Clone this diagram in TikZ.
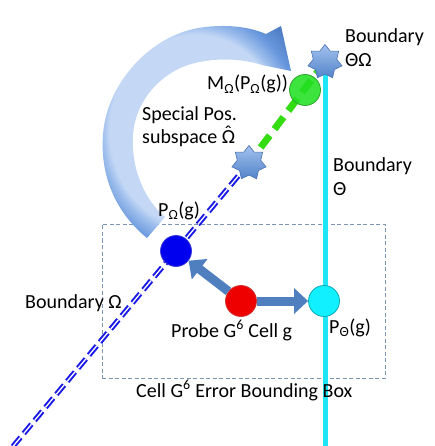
\documentclass[tikz,border=0pt]{standalone}
\usepackage{fontspec}
\setmainfont{Carlito}
\usetikzlibrary{shapes.geometric,arrows.meta}
\definecolor{ringin}{HTML}{C4D8F5}
\definecolor{ringlt}{HTML}{9CBDEC}
\definecolor{ringmid}{HTML}{6897DD}
\definecolor{ringout}{HTML}{4574BC}
\definecolor{startop}{HTML}{A3C2EE}
\definecolor{starbot}{HTML}{5283CA}
\definecolor{starline}{HTML}{4A72B0}
\definecolor{arrblue}{HTML}{4F7FBF}
\definecolor{gfill}{HTML}{22E022}
\definecolor{gline}{HTML}{2FA52F}
\definecolor{gdash}{HTML}{33DD11}
\definecolor{bfill}{HTML}{0000EE}
\definecolor{bline}{HTML}{3A3AD8}
\definecolor{bdash}{HTML}{1A1AE6}
\definecolor{rfill}{HTML}{EE0000}
\definecolor{rline}{HTML}{D03030}
\definecolor{cfill}{HTML}{10F0FF}
\definecolor{cline}{HTML}{10A8B8}
\definecolor{cyanl}{HTML}{1EE6F6}
\definecolor{boxc}{HTML}{7D95B5}
\pgfdeclareradialshading{ringshade}{\pgfpoint{0bp}{0bp}}{color(0bp)=(ringin); color(22.5bp)=(ringin); color(24.5bp)=(ringlt); color(28bp)=(ringmid); color(34bp)=(ringout); color(50bp)=(ringout)}
\pgfdeclarelayer{bg}
\pgfsetlayers{bg,main}
\newcommand{\omhat}{\ooalign{Ω\cr\hidewidth\raisebox{0.2em}{ˆ}\hidewidth\cr}}
\begin{document}
\begin{tikzpicture}[x=1pt,y=-1pt,
  lbl/.style={anchor=base west, inner sep=0pt, align=left, font=\fontsize{20}{23.5}\selectfont},
  starnode/.style={star, star points=7, star point ratio=1.45, minimum size=35pt, inner sep=0pt, draw=starline, line width=0.6pt, top color=startop, bottom color=starbot},
  dot/.style={circle, minimum size=31pt, inner sep=0pt, line width=0.8pt},
  blockarrow/.style={draw=arrblue, line width=9pt, -{Triangle[length=14pt,width=25pt]}},
  cyanline/.style={draw=cyanl, line width=5pt},
  greendash/.style={draw=gdash, line width=7pt, dash pattern=on 15pt off 8pt},
  bluedouble/.style={draw=bdash, line width=2pt, double=white, double distance=1.3pt, dash pattern=on 12pt off 5pt},
  boxline/.style={draw=boxc, line width=0.6pt, dash pattern=on 4pt off 2.5pt}
]
\useasboundingbox (0,0) rectangle (434,446);

\node[starnode] (topstar) at (325,62) {};
\node[starnode] (midstar) at (249,163) {};
\node[dot, fill=gfill, draw=gline, fill opacity=0.88] (mcirc) at (305,90) {};
\node[dot, fill=bfill, draw=bline] (pomega) at (176,251) {};
\node[dot, fill=rfill, draw=rline] (probe) at (241,301) {};
\node[dot, fill=cfill, draw=cline] (ptheta) at (324,301) {};
\coordinate (cyanend) at (325,450);
\coordinate (blueend) at (10,450);

\begin{pgfonlayer}{bg}
  \node[boxline, minimum width=283pt, minimum height=154pt, inner sep=0pt] (errbox) at (243.5,301) {};
  \draw[cyanline] (topstar.center) -- (cyanend);
  \draw[greendash] (topstar.center) -- (midstar.center);
  \draw[bluedouble] (midstar.center) -- (blueend);
  \shade[shading=ringshade] (147,238)
    .. controls (115,212) and (100,175) .. (103,135)
    .. controls (106,85) and (150,33) .. (205,27)
    .. controls (232,24) and (252,28) .. (266,34)
    -- (281,26) -- (291,71) -- (262,65)
    .. controls (240,58) and (210,57) .. (185,66)
    .. controls (155,78) and (135,105) .. (133,135)
    .. controls (131,170) and (145,200) .. (165,217)
    -- cycle;
\end{pgfonlayer}

\draw[blockarrow] (probe) -- (pomega);
\draw[blockarrow] (probe) -- (ptheta);

\node[lbl] (tbnd) at (345,66.5) {Boundary\\ΘΩ};
\node[lbl] (tm) at (207,90) {M\textsubscript{Ω}(P\textsubscript{Ω}(g))};
\node[lbl] (tsp) at (142,144) {Special Pos.\\subspace \omhat};
\node[lbl] (tbt) at (333,195) {Boundary\\Θ};
\node[lbl] (tpo) at (158,216.5) {P\textsubscript{Ω}(g)};
\node[lbl] (tbo) at (25,308) {Boundary Ω};
\node[lbl] (tprobe) at (171,337) {Probe G\textsuperscript{6} Cell g};
\node[lbl] (tpt) at (329,333) {P\textsubscript{Θ}(g)};
\node[lbl] (tbox) at (136,397) {Cell G\textsuperscript{6} Error Bounding Box};
\end{tikzpicture}
\end{document}
